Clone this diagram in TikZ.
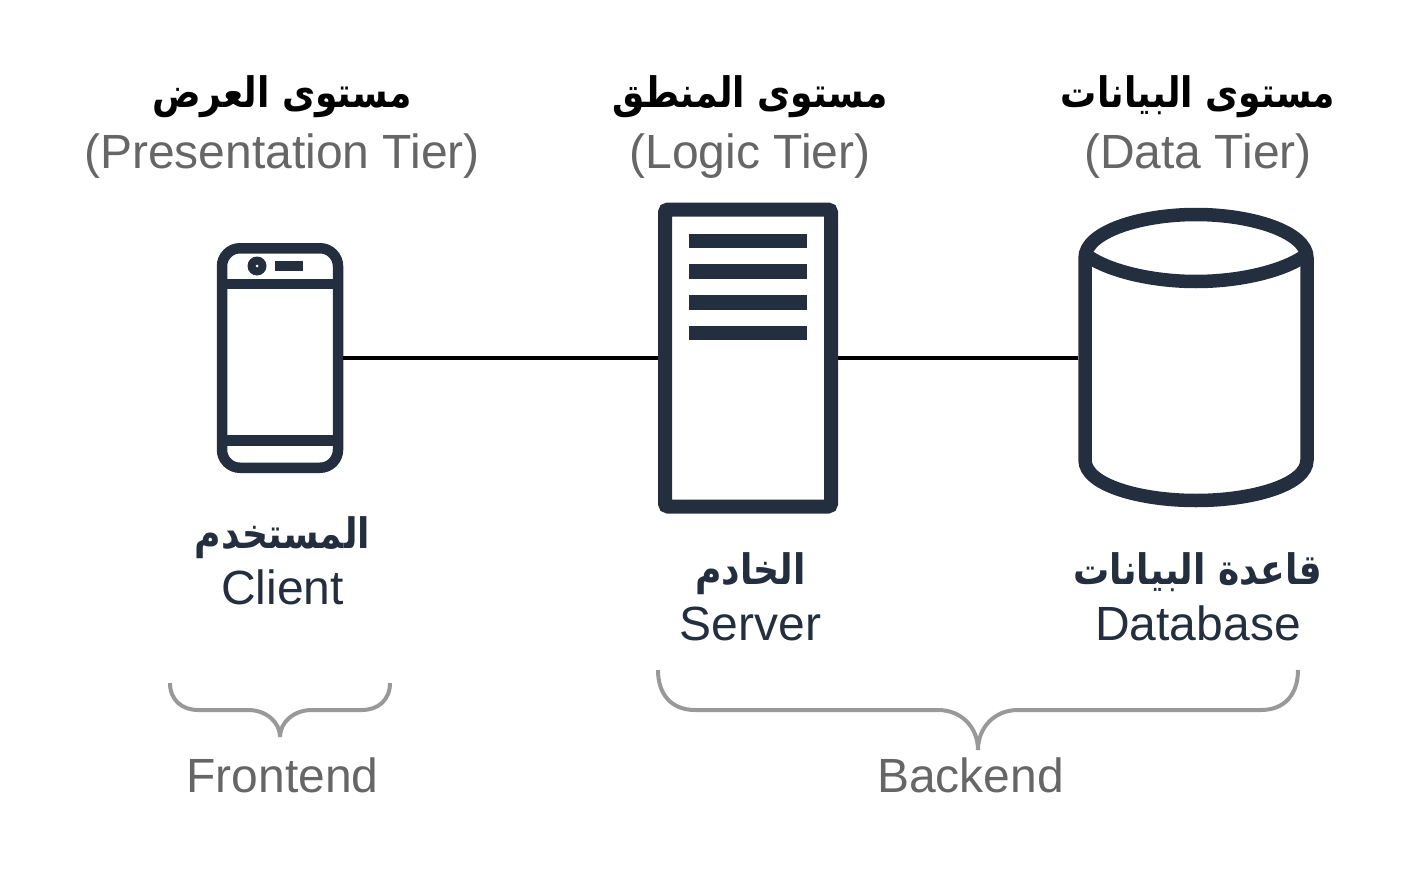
\documentclass[tikz,border=0pt]{standalone}
\usepackage{fontspec}
\setmainfont{Liberation Sans}
\newfontfamily\arabicfont[Script=Arabic,FakeStretch=0.86]{DejaVu Sans}
\TeXXeTstate=1
\usepackage{xcolor}
\usetikzlibrary{arrows.meta, calc}
\definecolor{iconblue}{HTML}{232F3E}
\definecolor{tiergray}{HTML}{666666}
\definecolor{bracegray}{HTML}{999999}
\newcommand{\ar}[1]{{\arabicfont\bfseries\fontsize{42}{42}\selectfont\beginR #1\endR}}
\tikzset{
  tierlabel/.style={font=\fontsize{48}{61}\selectfont, text=tiergray, align=center, inner sep=0pt},
  iconlabel/.style={font=\fontsize{48}{56}\selectfont, text=iconblue, align=center, inner sep=0pt},
  brace/.style={draw=bracegray, line width=4pt, line cap=butt},
  iconline/.style={draw=iconblue, line width=10.5pt},
  dbline/.style={draw=iconblue, line width=13.5pt},
  link/.style={draw=black, line width=4pt}
}

\begin{document}
\begin{tikzpicture}[x=1pt, y=-1pt]
  \useasboundingbox (0,0) rectangle (1416,880);

  % tier headings
  \node[tierlabel] (presentation) at (282,127.5) {\textcolor{black}{\ar{مستوى العرض}}\\(Presentation Tier)};
  \node[tierlabel] (logic) at (750,127.5) {\textcolor{black}{\ar{مستوى المنطق}}\\(Logic Tier)};
  \node[tierlabel] (data) at (1198,127.5) {\textcolor{black}{\ar{مستوى البيانات}}\\(Data Tier)};

  % phone
  \node[iconline, rounded corners=18pt, minimum width=116pt, minimum height=219.5pt, inner sep=0pt] (client) at (280,358) {};
  \draw[iconline] (222,283.8) -- (338,283.8);
  \draw[iconline] (222,440.7) -- (338,440.7);
  \fill[iconblue] (257,266) circle (9.5pt);
  \fill[white] (257,266) circle (1.5pt);
  \fill[iconblue] (275,260.7) rectangle (303.3,270.7);

  % server
  \node[iconline, line width=14pt, rounded corners=3pt, minimum width=166pt, minimum height=297pt, inner sep=0pt] (server) at (748,358) {};
  \foreach \y in {241,271.5,302.5,333}
    \draw[draw=iconblue, line width=14.5pt] (689,\y) -- (807,\y);

  % database
  \node[minimum width=236pt, minimum height=299pt, inner sep=0pt] (database) at (1196,358) {};
  \draw[dbline] (1085,254) .. controls (1105,270) and (1150,281.5) .. (1196,281.5)
    .. controls (1242,281.5) and (1287,270) .. (1307,254);
  \draw[dbline] (1085,258) .. controls (1085,232) and (1140,214.5) .. (1196,214.5)
    .. controls (1252,214.5) and (1307,232) .. (1307,258) -- (1307,460)
    .. controls (1307,485) and (1252,500.5) .. (1196,500.5)
    .. controls (1140,500.5) and (1085,485) .. (1085,460) -- cycle;

  % connectors
  \draw[link] (client.east) -- (server.west);
  \draw[link] (server.east) -- (database.west);

  % labels under the icons
  \node[iconlabel] (clienttext) at (282.5,560.5) {\ar{المستخدم}\\Client};
  \node[iconlabel] (servertext) at (750.5,596.5) {\ar{الخادم}\\Server};
  \node[iconlabel] (databasetext) at (1198,596.5) {\ar{قاعدة البيانات}\\Database};

  % braces
  \draw[brace] (170,683) .. controls (170,700) and (182,710) .. (198,710) -- (248,710)
    .. controls (266,710) and (280,722) .. (280,737);
  \draw[brace] (390,683) .. controls (390,700) and (378,710) .. (362,710) -- (312,710)
    .. controls (294,710) and (280,722) .. (280,737);
  \draw[brace] (658,670) .. controls (658,695) and (672,710) .. (695,710) -- (938,710)
    .. controls (962,710) and (978,728) .. (978,750);
  \draw[brace] (1298,670) .. controls (1298,695) and (1284,710) .. (1261,710) -- (1018,710)
    .. controls (994,710) and (978,728) .. (978,750);

  \node[tierlabel] (frontend) at (282.5,775) {Frontend};
  \node[tierlabel] (backend) at (970.5,775) {Backend};
\end{tikzpicture}
\end{document}
